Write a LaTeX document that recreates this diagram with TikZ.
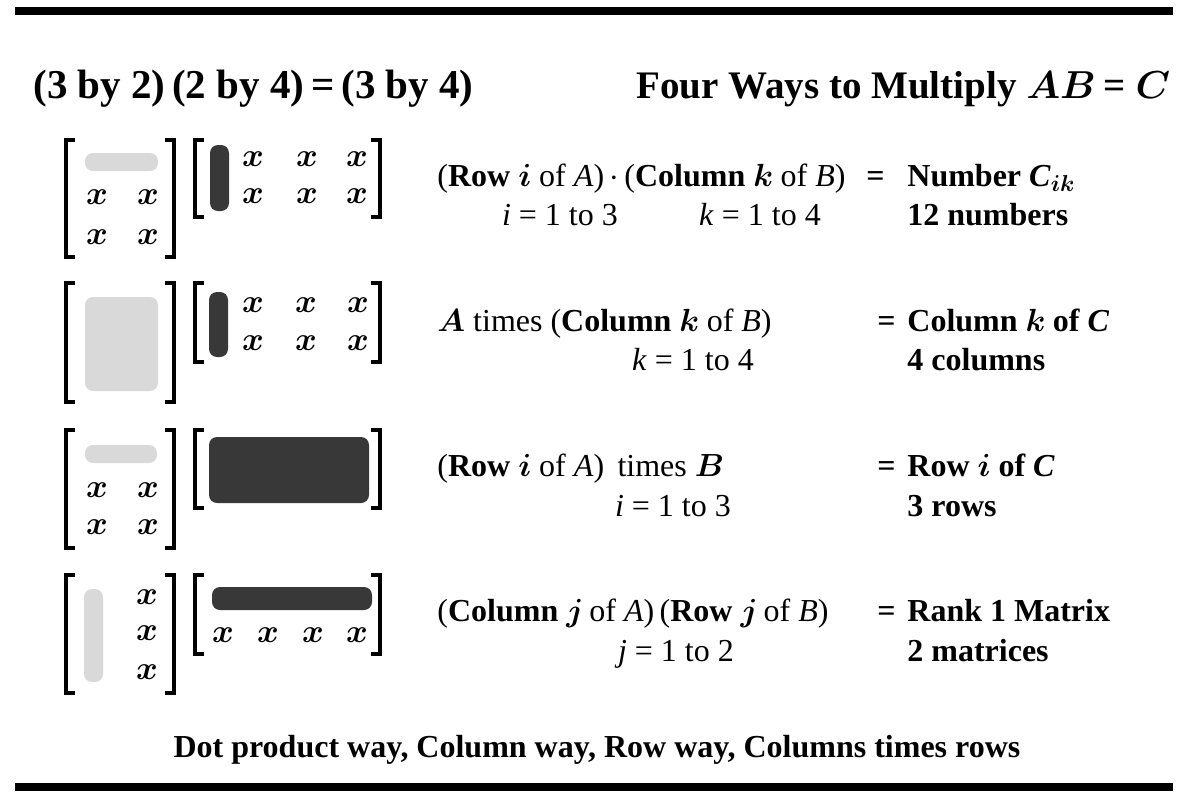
\documentclass[tikz,border=0pt]{standalone}
\usepackage{fontspec}
\setmainfont{Liberation Serif}
\font\entfont=cmmib10 at 16.5pt
\font\bitfont=cmmib10 at 16pt
\font\subfont=cmmib10 at 11.5pt
\font\ttlfont=cmmib10 at 19.5pt
\newcommand{\bi}[1]{{\bitfont #1}}

\begin{document}
\begin{tikzpicture}[x=0.5pt,y=-0.5pt,
        brk/.style={line width=1.6pt},
        lite/.style={fill=black!15, rounded corners=4pt},
        dark/.style={fill=black!78, rounded corners=4pt},
        ent/.style={font=\entfont, inner sep=0pt},
        txt/.style={anchor=base west, inner sep=0pt, font=\fontsize{16}{19}\selectfont},
        mid/.style={anchor=base, inner sep=0pt, font=\fontsize{16}{19}\selectfont},
        eqs/.style={anchor=base west, inner sep=0pt, font=\fontsize{16}{19}\selectfont\bfseries},
        rule/.style={line width=4pt}]
        \useasboundingbox (0,0) rectangle (1190,800);

        % rules and titles
        \draw[rule] (15,11) -- (1173,11);
        \draw[rule] (15,787) -- (1173,787);
        \node[txt, font=\fontsize{20.5}{24}\selectfont\bfseries] (size) at (33,98) {(3 by 2)\,(2 by 4)\,=\,(3 by 4)};
        \node[txt, anchor=base east, font=\fontsize{19.5}{23}\selectfont\bfseries] (ways) at (1168,98) {Four Ways to Multiply {\ttlfont AB} = {\ttlfont C}};

        % row 1: dot products
        \draw[brk] (75,140) -- (66,140) -- (66,257) -- (75,257);
        \draw[brk] (165,140) -- (174,140) -- (174,257) -- (165,257);
        \draw[brk] (204,140) -- (195,140) -- (195,217) -- (204,217);
        \draw[brk] (371,140) -- (380,140) -- (380,217) -- (371,217);
        \fill[lite] (85,153) rectangle (158,171);
        \fill[dark] (210,145) rectangle (229,211);
        \node[ent] (a12) at (97,197) {x};
        \node[ent] (a13) at (148,197) {x};
        \node[ent] (a14) at (97,237) {x};
        \node[ent] (a15) at (148,237) {x};
        \node[ent] (b11) at (253,159) {x};
        \node[ent] (b12) at (307,159) {x};
        \node[ent] (b13) at (357,159) {x};
        \node[ent] (b14) at (253,196) {x};
        \node[ent] (b15) at (307,196) {x};
        \node[ent] (b16) at (357,196) {x};
        \node[txt] (dot) at (437,186) {(\textbf{Row} \bi{i} of \textit{A})\,$\cdot$\,(\textbf{Column} \bi{k} of \textit{B})};
        \node[eqs] (doteq) at (866,186) {=};
        \node[eqs] (dotc) at (907,186) {Number \textit{C}\raisebox{-0.35ex}{\subfont ik}};
        \node[mid] (dot1) at (560,225) {\textit{i} = 1 to 3};
        \node[mid] (dot2) at (760,225) {\textit{k} = 1 to 4};
        \node[eqs] (dotn) at (907,225) {12 numbers};

        % row 2: columns
        \draw[brk] (75,283) -- (66,283) -- (66,402) -- (75,402);
        \draw[brk] (165,283) -- (174,283) -- (174,402) -- (165,402);
        \draw[brk] (204,283) -- (195,283) -- (195,362) -- (204,362);
        \draw[brk] (371,283) -- (380,283) -- (380,362) -- (371,362);
        \fill[lite] (85,297) rectangle (158,391);
        \fill[dark] (209,292) rectangle (228,357);
        \node[ent] (b21) at (253,305) {x};
        \node[ent] (b22) at (306,305) {x};
        \node[ent] (b23) at (358,305) {x};
        \node[ent] (b24) at (253,343) {x};
        \node[ent] (b25) at (306,343) {x};
        \node[ent] (b26) at (358,343) {x};
        \node[txt] (col) at (437,331) {\bi{A} times (\textbf{Column} \bi{k} of \textit{B})};
        \node[eqs] (coleq) at (877,331) {=};
        \node[eqs] (colc) at (907,331) {Column \bi{k} of \textit{C}};
        \node[mid] (col1) at (693,370) {\textit{k} = 1 to 4};
        \node[eqs] (coln) at (907,370) {4 columns};

        % row 3: rows
        \draw[brk] (75,430) -- (66,430) -- (66,548) -- (75,548);
        \draw[brk] (165,430) -- (174,430) -- (174,548) -- (165,548);
        \draw[brk] (204,430) -- (195,430) -- (195,508) -- (204,508);
        \draw[brk] (371,430) -- (380,430) -- (380,508) -- (371,508);
        \fill[lite] (85,445) rectangle (157,463);
        \fill[dark] (209,437) rectangle (369,503);
        \node[ent] (a32) at (97,490) {x};
        \node[ent] (a33) at (148,490) {x};
        \node[ent] (a34) at (97,527) {x};
        \node[ent] (a35) at (148,527) {x};
        \node[txt] (row) at (437,476) {(\textbf{Row} \bi{i} of \textit{A})\, times \bi{B}};
        \node[eqs] (roweq) at (877,476) {=};
        \node[eqs] (rowc) at (907,476) {Row \bi{i} of \textit{C}};
        \node[mid] (row1) at (673,516) {\textit{i} = 1 to 3};
        \node[eqs] (rown) at (907,516) {3 rows};

        % row 4: columns times rows
        \draw[brk] (75,575) -- (66,575) -- (66,693) -- (75,693);
        \draw[brk] (165,575) -- (174,575) -- (174,693) -- (165,693);
        \draw[brk] (204,575) -- (195,575) -- (195,654) -- (204,654);
        \draw[brk] (371,575) -- (380,575) -- (380,654) -- (371,654);
        \fill[lite] (84,589) rectangle (103,682);
        \fill[dark] (212,587) rectangle (372,610);
        \node[ent] (a41) at (147,597) {x};
        \node[ent] (a42) at (147,633) {x};
        \node[ent] (a43) at (147,672) {x};
        \node[ent] (b41) at (223,635) {x};
        \node[ent] (b42) at (268,635) {x};
        \node[ent] (b43) at (313,635) {x};
        \node[ent] (b44) at (357,635) {x};
        \node[txt] (rank) at (437,621) {(\textbf{Column} \bi{j} of \textit{A})\,(\textbf{Row} \bi{j} of \textit{B})};
        \node[eqs] (rankeq) at (877,621) {=};
        \node[eqs] (rankc) at (907,621) {Rank 1 Matrix};
        \node[mid] (rank1) at (676,661) {\textit{j} = 1 to 2};
        \node[eqs] (rankn) at (907,661) {2 matrices};

        \node[mid, font=\fontsize{16}{19}\selectfont\bfseries] (ways4) at (597,757) {Dot product way, Column way, Row way, Columns times rows};
    \end{tikzpicture}
\end{document}
